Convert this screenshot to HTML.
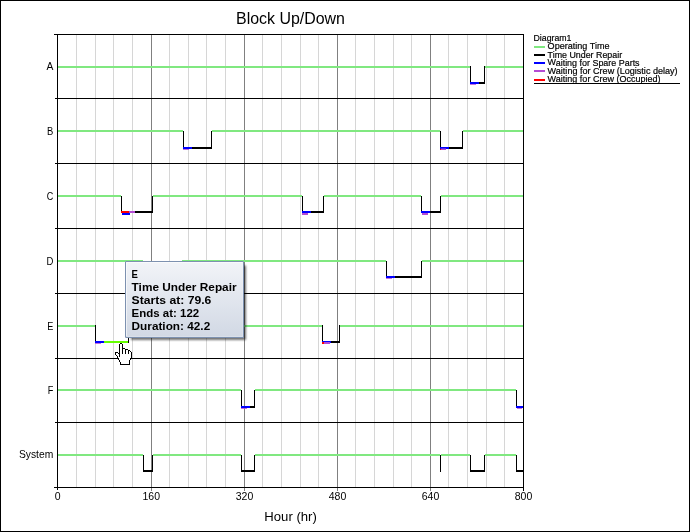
<!DOCTYPE html>
<html><head><meta charset="utf-8"><title>Block Up/Down</title>
<style>
html,body{margin:0;padding:0;background:#fff;}
svg{display:block;font-family:"Liberation Sans",sans-serif;fill:#000;}
</style></head><body>
<svg width="690" height="532" viewBox="0 0 690 532">
<rect x="0" y="0" width="690" height="532" fill="#fff"/>
<g shape-rendering="crispEdges">
<rect x="76" y="35" width="1" height="452" fill="#d6d6d6"/>
<rect x="95" y="35" width="1" height="452" fill="#d6d6d6"/>
<rect x="113" y="35" width="1" height="452" fill="#d6d6d6"/>
<rect x="132" y="35" width="1" height="452" fill="#d6d6d6"/>
<rect x="169" y="35" width="1" height="452" fill="#d6d6d6"/>
<rect x="188" y="35" width="1" height="452" fill="#d6d6d6"/>
<rect x="206" y="35" width="1" height="452" fill="#d6d6d6"/>
<rect x="225" y="35" width="1" height="452" fill="#d6d6d6"/>
<rect x="262" y="35" width="1" height="452" fill="#d6d6d6"/>
<rect x="281" y="35" width="1" height="452" fill="#d6d6d6"/>
<rect x="300" y="35" width="1" height="452" fill="#d6d6d6"/>
<rect x="318" y="35" width="1" height="452" fill="#d6d6d6"/>
<rect x="355" y="35" width="1" height="452" fill="#d6d6d6"/>
<rect x="374" y="35" width="1" height="452" fill="#d6d6d6"/>
<rect x="393" y="35" width="1" height="452" fill="#d6d6d6"/>
<rect x="411" y="35" width="1" height="452" fill="#d6d6d6"/>
<rect x="448" y="35" width="1" height="452" fill="#d6d6d6"/>
<rect x="467" y="35" width="1" height="452" fill="#d6d6d6"/>
<rect x="486" y="35" width="1" height="452" fill="#d6d6d6"/>
<rect x="504" y="35" width="1" height="452" fill="#d6d6d6"/>
<rect x="151" y="35" width="1" height="452" fill="#808080"/>
<rect x="244" y="35" width="1" height="452" fill="#808080"/>
<rect x="337" y="35" width="1" height="452" fill="#808080"/>
<rect x="430" y="35" width="1" height="452" fill="#808080"/>
<rect x="54" y="34" width="470" height="1" fill="#000"/>
<rect x="55" y="98" width="469" height="1" fill="#000"/>
<rect x="55" y="163" width="469" height="1" fill="#000"/>
<rect x="55" y="228" width="469" height="1" fill="#000"/>
<rect x="55" y="293" width="469" height="1" fill="#000"/>
<rect x="55" y="358" width="469" height="1" fill="#000"/>
<rect x="55" y="422" width="469" height="1" fill="#000"/>
<rect x="54" y="487" width="470" height="1" fill="#000"/>
<rect x="57" y="34" width="1" height="454" fill="#000"/>
<rect x="523" y="34" width="1" height="454" fill="#000"/>
<rect x="57" y="488" width="1" height="2" fill="#000"/>
<rect x="523" y="488" width="1" height="3" fill="#000"/>
<rect x="151" y="488" width="1" height="3" fill="#808080"/>
<rect x="244" y="488" width="1" height="3" fill="#808080"/>
<rect x="337" y="488" width="1" height="3" fill="#808080"/>
<rect x="430" y="488" width="1" height="3" fill="#808080"/>
<rect x="58" y="66" width="412" height="2" fill="#80e880"/>
<rect x="485" y="66" width="38" height="2" fill="#80e880"/>
<rect x="470" y="82" width="15" height="2" fill="#000"/>
<rect x="470" y="66" width="1" height="18" fill="#000"/>
<rect x="484" y="66" width="1" height="18" fill="#000"/>
<rect x="58" y="130" width="125" height="2" fill="#80e880"/>
<rect x="212" y="130" width="228" height="2" fill="#80e880"/>
<rect x="463" y="130" width="60" height="2" fill="#80e880"/>
<rect x="183" y="147" width="29" height="2" fill="#000"/>
<rect x="183" y="131" width="1" height="18" fill="#000"/>
<rect x="211" y="131" width="1" height="18" fill="#000"/>
<rect x="440" y="147" width="23" height="2" fill="#000"/>
<rect x="440" y="131" width="1" height="18" fill="#000"/>
<rect x="462" y="131" width="1" height="18" fill="#000"/>
<rect x="58" y="195" width="63" height="2" fill="#80e880"/>
<rect x="153" y="195" width="149" height="2" fill="#80e880"/>
<rect x="324" y="195" width="97" height="2" fill="#80e880"/>
<rect x="441" y="195" width="82" height="2" fill="#80e880"/>
<rect x="121" y="211" width="32" height="2" fill="#000"/>
<rect x="121" y="196" width="1" height="17" fill="#000"/>
<rect x="152" y="196" width="1" height="17" fill="#000"/>
<rect x="302" y="211" width="22" height="2" fill="#000"/>
<rect x="302" y="196" width="1" height="17" fill="#000"/>
<rect x="323" y="196" width="1" height="17" fill="#000"/>
<rect x="421" y="211" width="20" height="2" fill="#000"/>
<rect x="421" y="196" width="1" height="17" fill="#000"/>
<rect x="440" y="196" width="1" height="17" fill="#000"/>
<rect x="58" y="260" width="328" height="2" fill="#80e880"/>
<rect x="422" y="260" width="101" height="2" fill="#80e880"/>
<rect x="386" y="276" width="36" height="2" fill="#000"/>
<rect x="386" y="261" width="1" height="17" fill="#000"/>
<rect x="421" y="261" width="1" height="17" fill="#000"/>
<rect x="58" y="325" width="37" height="2" fill="#80e880"/>
<rect x="129" y="325" width="193" height="2" fill="#80e880"/>
<rect x="340" y="325" width="183" height="2" fill="#80e880"/>
<rect x="95" y="341" width="34" height="2" fill="#000"/>
<rect x="95" y="325" width="1" height="18" fill="#000"/>
<rect x="128" y="325" width="1" height="18" fill="#000"/>
<rect x="322" y="341" width="18" height="2" fill="#000"/>
<rect x="322" y="325" width="1" height="18" fill="#000"/>
<rect x="339" y="325" width="1" height="18" fill="#000"/>
<rect x="58" y="389" width="183" height="2" fill="#80e880"/>
<rect x="255" y="389" width="261" height="2" fill="#80e880"/>
<rect x="241" y="406" width="14" height="2" fill="#000"/>
<rect x="241" y="390" width="1" height="18" fill="#000"/>
<rect x="254" y="390" width="1" height="18" fill="#000"/>
<rect x="516" y="406" width="8" height="2" fill="#000"/>
<rect x="516" y="390" width="1" height="18" fill="#000"/>
<rect x="58" y="454" width="85" height="2" fill="#80e880"/>
<rect x="153" y="454" width="88" height="2" fill="#80e880"/>
<rect x="255" y="454" width="185" height="2" fill="#80e880"/>
<rect x="441" y="454" width="29" height="2" fill="#80e880"/>
<rect x="485" y="454" width="31" height="2" fill="#80e880"/>
<rect x="143" y="470" width="10" height="2" fill="#000"/>
<rect x="143" y="455" width="1" height="17" fill="#000"/>
<rect x="152" y="455" width="1" height="17" fill="#000"/>
<rect x="241" y="470" width="14" height="2" fill="#000"/>
<rect x="241" y="455" width="1" height="17" fill="#000"/>
<rect x="254" y="455" width="1" height="17" fill="#000"/>
<rect x="440" y="455" width="1" height="17" fill="#000"/>
<rect x="470" y="470" width="15" height="2" fill="#000"/>
<rect x="470" y="455" width="1" height="17" fill="#000"/>
<rect x="484" y="455" width="1" height="17" fill="#000"/>
<rect x="516" y="470" width="8" height="2" fill="#000"/>
<rect x="516" y="455" width="1" height="17" fill="#000"/>
<rect x="470" y="84" width="6" height="1" fill="#b44cd4" opacity="0.8"/>
<rect x="470" y="82" width="9" height="2" fill="#0000ff"/>
<rect x="183" y="149" width="6" height="1" fill="#b44cd4" opacity="0.8"/>
<rect x="183" y="147" width="9" height="2" fill="#0000ff"/>
<rect x="440" y="147" width="9" height="2" fill="#0000ff"/>
<rect x="441" y="149" width="5" height="1" fill="#b44cd4"/>
<rect x="441" y="148" width="5" height="1" fill="#b44cd4" opacity="0.5"/>
<rect x="440" y="149" width="1" height="1" fill="#ff0000"/>
<rect x="121" y="211" width="8" height="2" fill="#ff0000"/>
<rect x="129" y="211" width="6" height="2" fill="#b44cd4"/>
<rect x="122" y="213" width="8" height="2" fill="#0000ff"/>
<rect x="302" y="211" width="9" height="2" fill="#0000ff"/>
<rect x="302" y="213" width="6" height="2" fill="#b44cd4"/>
<rect x="421" y="211" width="9" height="2" fill="#0000ff"/>
<rect x="422" y="213" width="6" height="2" fill="#b44cd4"/>
<rect x="386" y="276" width="9" height="2" fill="#0000ff"/>
<rect x="386" y="278" width="6" height="1" fill="#b44cd4" opacity="0.8"/>
<rect x="95" y="341" width="9" height="2" fill="#0000ff"/>
<rect x="104" y="341" width="24" height="2" fill="#66ff00"/>
<rect x="95" y="343" width="6" height="1" fill="#b44cd4" opacity="0.8"/>
<rect x="322" y="341" width="9" height="2" fill="#0000ff"/>
<rect x="324" y="342" width="6" height="2" fill="#b44cd4"/>
<rect x="322" y="342" width="2" height="2" fill="#ff0000"/>
<rect x="241" y="406" width="9" height="2" fill="#0000ff"/>
<rect x="241" y="408" width="6" height="1" fill="#b44cd4" opacity="0.8"/>
<rect x="516" y="406" width="7" height="2" fill="#0000ff"/>
<rect x="517" y="408" width="5" height="1" fill="#b44cd4" opacity="0.8"/>
<rect x="470" y="66" width="1" height="16" fill="#000"/>
<rect x="183" y="131" width="1" height="16" fill="#000"/>
<rect x="440" y="131" width="1" height="16" fill="#000"/>
<rect x="121" y="196" width="1" height="15" fill="#000"/>
<rect x="302" y="196" width="1" height="15" fill="#000"/>
<rect x="421" y="196" width="1" height="15" fill="#000"/>
<rect x="386" y="261" width="1" height="15" fill="#000"/>
<rect x="95" y="325" width="1" height="16" fill="#000"/>
<rect x="322" y="325" width="1" height="16" fill="#000"/>
<rect x="241" y="390" width="1" height="16" fill="#000"/>
<rect x="516" y="390" width="1" height="16" fill="#000"/>
<rect x="143" y="455" width="1" height="15" fill="#000"/>
<rect x="241" y="455" width="1" height="15" fill="#000"/>
<rect x="440" y="455" width="1" height="15" fill="#000"/>
<rect x="470" y="455" width="1" height="15" fill="#000"/>
<rect x="516" y="455" width="1" height="15" fill="#000"/>
<rect x="143" y="260" width="39" height="1" fill="#fff"/>
<rect x="151" y="260" width="1" height="1" fill="#808080"/>
<rect x="169" y="260" width="1" height="1" fill="#d6d6d6"/>
<rect x="534" y="46" width="11" height="2" fill="#80e880"/>
<rect x="534" y="54" width="11" height="2" fill="#000"/>
<rect x="534" y="62" width="11" height="2" fill="#0000ff"/>
<rect x="534" y="70" width="11" height="2" fill="#b44cd4"/>
<rect x="534" y="79" width="11" height="2" fill="#ff0000"/>
<rect x="0" y="0" width="690" height="1" fill="#000"/>
<rect x="0" y="531" width="690" height="1" fill="#000"/>
<rect x="0" y="0" width="1" height="532" fill="#000"/>
<rect x="689" y="0" width="1" height="532" fill="#000"/>
</g>
<rect x="534" y="83" width="146" height="1" fill="#000" shape-rendering="crispEdges"/>
<defs><linearGradient id="tg" x1="0" y1="0" x2="0" y2="1"><stop offset="0" stop-color="#f2f4f8"/><stop offset="1" stop-color="#d1d8e4"/></linearGradient></defs>
<defs><filter id="sh" filterUnits="userSpaceOnUse" x="110" y="250" width="150" height="105"><feGaussianBlur stdDeviation="1.3"/></filter></defs>
<rect x="131" y="265.5" width="115" height="74.5" fill="#000" opacity="0.55" filter="url(#sh)"/>
<rect x="128" y="338" width="1" height="5" fill="#000" shape-rendering="crispEdges"/>
<rect x="125.5" y="261.5" width="118" height="76" rx="0.3" fill="url(#tg)" stroke="#7d91b0" stroke-width="1"/>
<path d="M126.5 336 V262.5 H242.5" fill="none" stroke="#fff" stroke-opacity="0.6" stroke-width="1"/>
<path d="M242.5 263.5 V336.5 H127" fill="none" stroke="#fff" stroke-opacity="0.18" stroke-width="1"/>
<g shape-rendering="crispEdges">
<rect x="120" y="343" width="2" height="1" fill="#000"/>
<rect x="120" y="344" width="2" height="1" fill="#fff"/>
<rect x="119" y="344" width="1" height="1" fill="#000"/>
<rect x="122" y="344" width="1" height="1" fill="#000"/>
<rect x="120" y="345" width="2" height="1" fill="#fff"/>
<rect x="119" y="345" width="1" height="1" fill="#000"/>
<rect x="122" y="345" width="1" height="1" fill="#000"/>
<rect x="120" y="346" width="2" height="1" fill="#fff"/>
<rect x="119" y="346" width="1" height="1" fill="#000"/>
<rect x="122" y="346" width="1" height="1" fill="#000"/>
<rect x="120" y="347" width="2" height="1" fill="#fff"/>
<rect x="119" y="347" width="1" height="1" fill="#000"/>
<rect x="122" y="347" width="1" height="1" fill="#000"/>
<rect x="120" y="348" width="4" height="1" fill="#fff"/>
<rect x="119" y="348" width="1" height="1" fill="#000"/>
<rect x="122" y="348" width="3" height="1" fill="#000"/>
<rect x="120" y="349" width="7" height="1" fill="#fff"/>
<rect x="119" y="349" width="1" height="1" fill="#000"/>
<rect x="122" y="349" width="1" height="1" fill="#000"/>
<rect x="125" y="349" width="3" height="1" fill="#000"/>
<rect x="120" y="350" width="9" height="1" fill="#fff"/>
<rect x="119" y="350" width="1" height="1" fill="#000"/>
<rect x="122" y="350" width="1" height="1" fill="#000"/>
<rect x="125" y="350" width="1" height="1" fill="#000"/>
<rect x="128" y="350" width="2" height="1" fill="#000"/>
<rect x="120" y="351" width="10" height="1" fill="#fff"/>
<rect x="119" y="351" width="1" height="1" fill="#000"/>
<rect x="122" y="351" width="1" height="1" fill="#000"/>
<rect x="125" y="351" width="1" height="1" fill="#000"/>
<rect x="128" y="351" width="1" height="1" fill="#000"/>
<rect x="130" y="351" width="1" height="1" fill="#000"/>
<rect x="116" y="352" width="15" height="1" fill="#fff"/>
<rect x="115" y="352" width="3" height="1" fill="#000"/>
<rect x="119" y="352" width="1" height="1" fill="#000"/>
<rect x="122" y="352" width="1" height="1" fill="#000"/>
<rect x="125" y="352" width="1" height="1" fill="#000"/>
<rect x="128" y="352" width="1" height="1" fill="#000"/>
<rect x="131" y="352" width="1" height="1" fill="#000"/>
<rect x="116" y="353" width="15" height="1" fill="#fff"/>
<rect x="115" y="353" width="1" height="1" fill="#000"/>
<rect x="118" y="353" width="2" height="1" fill="#000"/>
<rect x="122" y="353" width="1" height="1" fill="#000"/>
<rect x="125" y="353" width="1" height="1" fill="#000"/>
<rect x="128" y="353" width="1" height="1" fill="#000"/>
<rect x="131" y="353" width="1" height="1" fill="#000"/>
<rect x="116" y="354" width="15" height="1" fill="#fff"/>
<rect x="115" y="354" width="1" height="1" fill="#000"/>
<rect x="119" y="354" width="1" height="1" fill="#000"/>
<rect x="131" y="354" width="1" height="1" fill="#000"/>
<rect x="117" y="355" width="14" height="1" fill="#fff"/>
<rect x="116" y="355" width="1" height="1" fill="#000"/>
<rect x="119" y="355" width="1" height="1" fill="#000"/>
<rect x="131" y="355" width="1" height="1" fill="#000"/>
<rect x="118" y="356" width="13" height="1" fill="#fff"/>
<rect x="117" y="356" width="1" height="1" fill="#000"/>
<rect x="119" y="356" width="1" height="1" fill="#000"/>
<rect x="131" y="356" width="1" height="1" fill="#000"/>
<rect x="118" y="357" width="13" height="1" fill="#fff"/>
<rect x="117" y="357" width="1" height="1" fill="#000"/>
<rect x="131" y="357" width="1" height="1" fill="#000"/>
<rect x="119" y="358" width="11" height="1" fill="#fff"/>
<rect x="118" y="358" width="1" height="1" fill="#000"/>
<rect x="130" y="358" width="1" height="1" fill="#000"/>
<rect x="119" y="359" width="11" height="1" fill="#fff"/>
<rect x="118" y="359" width="1" height="1" fill="#000"/>
<rect x="130" y="359" width="1" height="1" fill="#000"/>
<rect x="120" y="360" width="9" height="1" fill="#fff"/>
<rect x="119" y="360" width="1" height="1" fill="#000"/>
<rect x="129" y="360" width="1" height="1" fill="#000"/>
<rect x="120" y="361" width="9" height="1" fill="#fff"/>
<rect x="119" y="361" width="1" height="1" fill="#000"/>
<rect x="129" y="361" width="1" height="1" fill="#000"/>
<rect x="121" y="362" width="8" height="1" fill="#fff"/>
<rect x="120" y="362" width="1" height="1" fill="#000"/>
<rect x="129" y="362" width="1" height="1" fill="#000"/>
<rect x="121" y="363" width="8" height="1" fill="#fff"/>
<rect x="120" y="363" width="1" height="1" fill="#000"/>
<rect x="129" y="363" width="1" height="1" fill="#000"/>
<rect x="121" y="364" width="8" height="1" fill="#fff"/>
<rect x="120" y="364" width="10" height="1" fill="#000"/>
</g>
<defs><filter id="nf" filterUnits="userSpaceOnUse" x="0" y="0" width="690" height="532"><feColorMatrix type="identity"/></filter></defs>
<g filter="url(#nf)">
<text x="290.5" y="24.45" font-size="15.8" text-anchor="middle" font-weight="normal" textLength="109" lengthAdjust="spacingAndGlyphs" transform="rotate(0.02 290.5 24.45)">Block Up/Down</text>
<text x="290.6" y="520.75" font-size="12.6" text-anchor="middle" font-weight="normal" textLength="52.5" lengthAdjust="spacingAndGlyphs" transform="rotate(0.02 290.6 520.75)">Hour (hr)</text>
<text x="57.7" y="499.75" font-size="10.5" text-anchor="middle" font-weight="normal" transform="rotate(0.02 57.7 499.75)">0</text>
<text x="151.3" y="499.75" font-size="10.5" text-anchor="middle" font-weight="normal" transform="rotate(0.02 151.3 499.75)">160</text>
<text x="244.5" y="499.75" font-size="10.5" text-anchor="middle" font-weight="normal" transform="rotate(0.02 244.5 499.75)">320</text>
<text x="337.5" y="499.75" font-size="10.5" text-anchor="middle" font-weight="normal" transform="rotate(0.02 337.5 499.75)">480</text>
<text x="430.5" y="499.75" font-size="10.5" text-anchor="middle" font-weight="normal" transform="rotate(0.02 430.5 499.75)">640</text>
<text x="523.5" y="499.75" font-size="10.5" text-anchor="middle" font-weight="normal" transform="rotate(0.02 523.5 499.75)">800</text>
<text x="53.3" y="70.4" font-size="10.3" text-anchor="end" font-weight="normal" transform="rotate(0.02 53.3 70.4)">A</text>
<text x="53.3" y="134.7" font-size="10.3" text-anchor="end" font-weight="normal" textLength="6.3" lengthAdjust="spacingAndGlyphs" transform="rotate(0.02 53.3 134.7)">B</text>
<text x="53.3" y="199.8" font-size="10.3" text-anchor="end" font-weight="normal" textLength="6.5" lengthAdjust="spacingAndGlyphs" transform="rotate(0.02 53.3 199.8)">C</text>
<text x="53.3" y="264.7" font-size="10.3" text-anchor="end" font-weight="normal" textLength="6.9" lengthAdjust="spacingAndGlyphs" transform="rotate(0.02 53.3 264.7)">D</text>
<text x="53.3" y="329.6" font-size="10.3" text-anchor="end" font-weight="normal" textLength="6.1" lengthAdjust="spacingAndGlyphs" transform="rotate(0.02 53.3 329.6)">E</text>
<text x="53.3" y="393.9" font-size="10.3" text-anchor="end" font-weight="normal" textLength="5.6" lengthAdjust="spacingAndGlyphs" transform="rotate(0.02 53.3 393.9)">F</text>
<text x="53.3" y="457.9" font-size="10.3" text-anchor="end" font-weight="normal" transform="rotate(0.02 53.3 457.9)">System</text>
<clipPath id="lc"><rect x="530" y="30" width="158" height="53"/></clipPath><g clip-path="url(#lc)">
<text x="533.5" y="40.8" font-size="9.5" text-anchor="start" font-weight="normal" textLength="38" lengthAdjust="spacingAndGlyphs" stroke="#000" stroke-width="0.2" transform="rotate(0.02 533.5 40.8)">Diagram1</text>
<text x="547.6" y="48.9" font-size="9.5" text-anchor="start" font-weight="normal" textLength="62" lengthAdjust="spacingAndGlyphs" stroke="#000" stroke-width="0.2" transform="rotate(0.02 547.6 48.9)">Operating Time</text>
<text x="547.6" y="57.6" font-size="9.5" text-anchor="start" font-weight="normal" textLength="74.5" lengthAdjust="spacingAndGlyphs" stroke="#000" stroke-width="0.2" transform="rotate(0.02 547.6 57.6)">Time Under Repair</text>
<text x="547.6" y="65.5" font-size="9.5" text-anchor="start" font-weight="normal" textLength="92" lengthAdjust="spacingAndGlyphs" stroke="#000" stroke-width="0.2" transform="rotate(0.02 547.6 65.5)">Waiting for Spare Parts</text>
<text x="547.6" y="73.7" font-size="9.5" text-anchor="start" font-weight="normal" textLength="130" lengthAdjust="spacingAndGlyphs" stroke="#000" stroke-width="0.2" transform="rotate(0.02 547.6 73.7)">Waiting for Crew (Logistic delay)</text>
<text x="547.6" y="81.9" font-size="9.5" text-anchor="start" font-weight="normal" textLength="113" lengthAdjust="spacingAndGlyphs" stroke="#000" stroke-width="0.2" transform="rotate(0.02 547.6 81.9)">Waiting for Crew (Occupied)</text>
</g>
<text x="131.6" y="278" font-size="11" text-anchor="start" font-weight="bold" textLength="6.4" lengthAdjust="spacingAndGlyphs">E</text>
<text x="131.6" y="291" font-size="11" text-anchor="start" font-weight="bold" textLength="105" lengthAdjust="spacingAndGlyphs">Time Under Repair</text>
<text x="131.6" y="304" font-size="11" text-anchor="start" font-weight="bold" textLength="79.8" lengthAdjust="spacingAndGlyphs">Starts at: 79.6</text>
<text x="131.6" y="317" font-size="11" text-anchor="start" font-weight="bold" textLength="67.6" lengthAdjust="spacingAndGlyphs">Ends at: 122</text>
<text x="131.6" y="330" font-size="11" text-anchor="start" font-weight="bold" textLength="78.6" lengthAdjust="spacingAndGlyphs">Duration: 42.2</text>
</g>
</svg>
</body></html>
